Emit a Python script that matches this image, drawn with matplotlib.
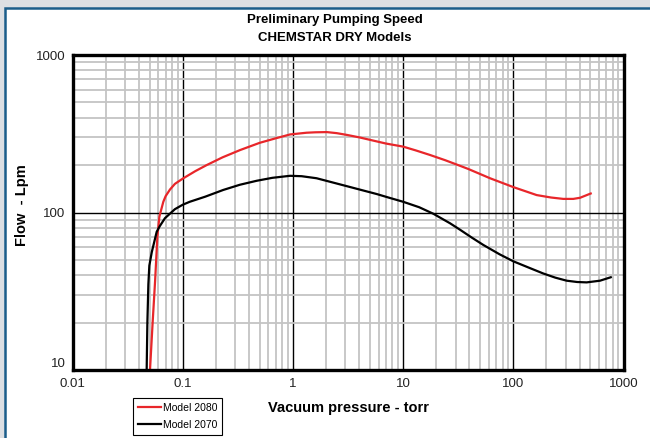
import numpy as np
import matplotlib.pyplot as plt
from matplotlib.patches import Rectangle
from matplotlib.ticker import FixedLocator, LogLocator, NullFormatter

# values (pressure in torr, flow in Lpm)
p2080 = [0.0505, 0.0532, 0.0562, 0.0589, 0.0614, 0.0667, 0.07, 0.0767, 0.085, 0.1, 0.13,
         0.165, 0.23, 0.331, 0.5, 0.7, 0.942, 1.33, 1.6, 2.03, 2.5, 3.08, 4, 5.37, 7, 10,
         13, 17.5, 24, 32.8, 39, 61.5, 100, 163, 220, 284, 350, 403, 504]
f2080 = [10, 19.3, 37, 70, 94, 117, 127, 140, 152, 164, 183,
         200, 224, 249, 277, 296, 313, 321, 323, 324, 319, 311, 300, 286, 274, 262,
         248, 232, 215, 198, 189, 165, 145, 129, 124.5, 122, 122, 124, 132]

p2070 = [0.0471, 0.0478, 0.0488, 0.0498, 0.0524, 0.0581, 0.062, 0.069, 0.085, 0.1, 0.116,
         0.16, 0.233, 0.33, 0.469, 0.65, 0.942, 1.2, 1.64, 3.08, 5.76, 7.5, 10, 14, 18.8,
         26.6, 32.8, 42, 53.5, 75, 100, 140, 187, 240, 305, 380, 463, 612, 766]
f2070 = [10, 20, 35, 46, 56, 75.5, 82, 92, 105, 112, 117,
         126, 139, 150, 159, 166, 171, 170, 165, 147, 131, 124, 117, 108, 98.2,
         85.5, 77.8, 69.3, 62.2, 54.3, 49, 44.5, 41, 38.6, 36.9, 36.2, 36, 36.9, 38.8]

xticks = [0.01, 0.1, 1, 10, 100, 1000]
xlabels = ['0.01', '0.1', '1', '10', '100', '1000']
yticks = [10, 100, 1000]
ylabels = ['10', '100', '1000']

plt.rcParams['font.family'] = ['Liberation Sans', 'DejaVu Sans']

fig = plt.figure(figsize=(6.5, 4.38), dpi=100, facecolor='#dcdfe3')
fig.add_artist(Rectangle((5/650, -0.05), 1.1, 1 - 8/438 + 0.05, transform=fig.transFigure,
                         facecolor='white', edgecolor='#1b5d8a', lw=1.8, zorder=-5))

ax = fig.add_axes([72.5/650, 1 - 370/438, 551/650, 315/438])
ax.set_xscale('log')
ax.set_yscale('log')
ax.set_xlim(0.01, 1000)
ax.set_ylim(10, 1000)

ax.xaxis.set_major_locator(FixedLocator(xticks))
ax.yaxis.set_major_locator(FixedLocator(yticks))
ax.set_xticklabels(xlabels)
ax.set_yticklabels(ylabels)
ax.xaxis.set_minor_locator(LogLocator(base=10, subs=np.arange(2, 10), numticks=30))
ax.yaxis.set_minor_locator(LogLocator(base=10, subs=np.arange(2, 10), numticks=30))
ax.xaxis.set_minor_formatter(NullFormatter())
ax.yaxis.set_minor_formatter(NullFormatter())
ax.tick_params(which='both', length=0, labelsize=9.5, labelcolor='#222222')
ax.tick_params(axis='x', pad=6)
ax.tick_params(axis='y', pad=5)
ax.get_yticklabels()[0].set_va('bottom')

ax.grid(which='minor', color='#c4c4c4', lw=1.3)
ax.grid(which='major', color='black', lw=1.0)
ax.set_axisbelow(True)
for s in ax.spines.values():
    s.set_linewidth(2.4)
    s.set_color('black')

ax.plot(p2080, f2080, color='#e8262a', lw=1.6, label='Model 2080', solid_joinstyle='round')
ax.plot(p2070, f2070, color='black', lw=1.6, label='Model 2070', solid_joinstyle='round')

fig.text(335/650, 1 - 20/438, 'Preliminary Pumping Speed', ha='center', va='center',
         fontsize=9.5, fontweight='bold')
fig.text(335/650, 1 - 38/438, 'CHEMSTAR DRY Models', ha='center', va='center',
         fontsize=9.5, fontweight='bold')
fig.text(348/650, 1 - 408/438, 'Vacuum pressure - torr', ha='center', va='center',
         fontsize=10.5, fontweight='bold')
fig.text(22/650, 1 - 205/438, 'Flow  - Lpm', ha='center', va='center', rotation=90,
         fontsize=10.5, fontweight='bold')

leg = ax.legend(loc='upper left', bbox_to_anchor=(133/650, 1 - 398/438),
                bbox_transform=fig.transFigure, fontsize=7.5, fancybox=False,
                edgecolor='black', framealpha=1, handlelength=2.2, handletextpad=0.2,
                borderpad=0.45, labelspacing=0.7, borderaxespad=0)
leg.get_frame().set_linewidth(0.8)

fig.savefig('out.png', dpi=100, facecolor=fig.get_facecolor())
